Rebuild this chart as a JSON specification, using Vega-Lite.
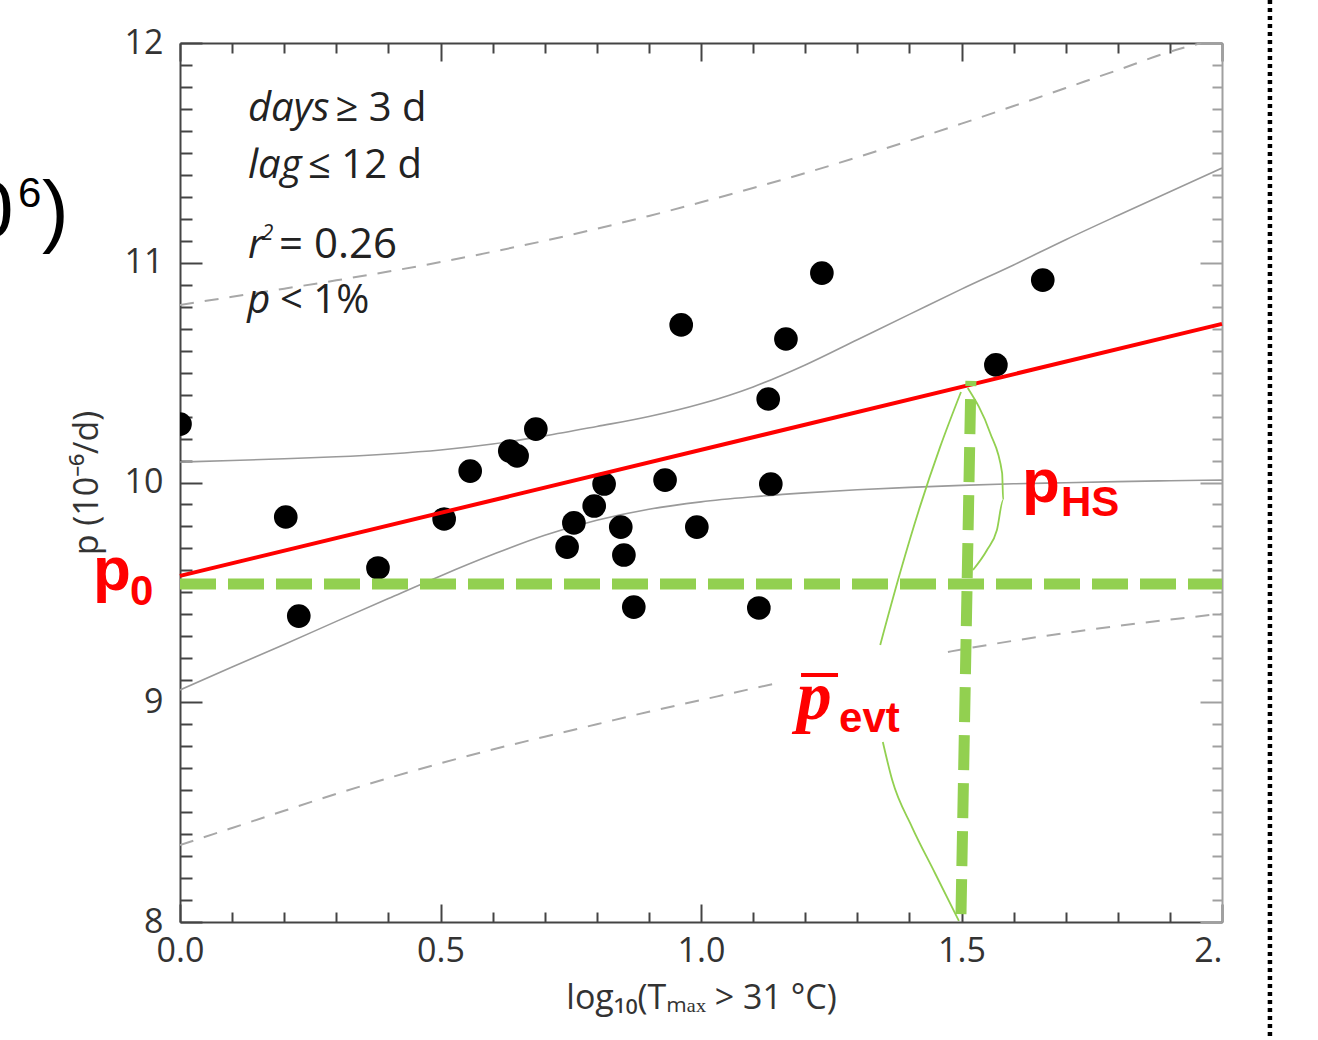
{
  "$schema": "https://vega.github.io/schema/vega-lite/v6.json",
  "width": 1042,
  "height": 879,
  "autosize": "none",
  "padding": {"left": 180, "top": 43, "right": 96, "bottom": 118},
  "background": "white",
  "config": {
    "view": {"stroke": null},
    "axis": {
      "grid": false,
      "domainColor": "#444",
      "domainWidth": 2,
      "tickColor": "#444",
      "tickWidth": 2,
      "labelFont": "Open Sans",
      "labelFontSize": 34,
      "labelColor": "#333",
      "titleFont": "Open Sans",
      "titleFontSize": 34,
      "titleFontWeight": "normal",
      "titleColor": "#333",
      "labelOverlap": false,
      "labelFlush": false,
      "labelBound": false
    }
  },
  "datasets": {
    "band": [
      {"x": 0.0, "y": 10.093, "s": "up"}, {"x": 0.1, "y": 10.100, "s": "up"}, {"x": 0.2, "y": 10.108, "s": "up"},
      {"x": 0.3, "y": 10.117, "s": "up"}, {"x": 0.4, "y": 10.130, "s": "up"}, {"x": 0.5, "y": 10.148, "s": "up"},
      {"x": 0.6, "y": 10.175, "s": "up"}, {"x": 0.7, "y": 10.212, "s": "up"}, {"x": 0.8, "y": 10.255, "s": "up"},
      {"x": 0.9, "y": 10.300, "s": "up"}, {"x": 1.0, "y": 10.358, "s": "up"}, {"x": 1.1, "y": 10.435, "s": "up"},
      {"x": 1.2, "y": 10.535, "s": "up"}, {"x": 1.3, "y": 10.650, "s": "up"}, {"x": 1.4, "y": 10.765, "s": "up"},
      {"x": 1.5, "y": 10.880, "s": "up"}, {"x": 1.6, "y": 10.990, "s": "up"}, {"x": 1.7, "y": 11.105, "s": "up"},
      {"x": 1.8, "y": 11.215, "s": "up"}, {"x": 1.9, "y": 11.323, "s": "up"}, {"x": 2.0, "y": 11.431, "s": "up"},
      {"x": 0.0, "y": 9.056, "s": "lo"}, {"x": 0.1, "y": 9.160, "s": "lo"}, {"x": 0.2, "y": 9.263, "s": "lo"},
      {"x": 0.3, "y": 9.368, "s": "lo"}, {"x": 0.4, "y": 9.472, "s": "lo"}, {"x": 0.5, "y": 9.575, "s": "lo"},
      {"x": 0.6, "y": 9.672, "s": "lo"}, {"x": 0.7, "y": 9.760, "s": "lo"}, {"x": 0.8, "y": 9.828, "s": "lo"},
      {"x": 0.9, "y": 9.878, "s": "lo"}, {"x": 1.0, "y": 9.912, "s": "lo"}, {"x": 1.1, "y": 9.935, "s": "lo"},
      {"x": 1.2, "y": 9.953, "s": "lo"}, {"x": 1.3, "y": 9.967, "s": "lo"}, {"x": 1.4, "y": 9.978, "s": "lo"},
      {"x": 1.5, "y": 9.987, "s": "lo"}, {"x": 1.6, "y": 9.994, "s": "lo"}, {"x": 1.7, "y": 9.999, "s": "lo"},
      {"x": 1.8, "y": 10.004, "s": "lo"}, {"x": 1.9, "y": 10.008, "s": "lo"}, {"x": 2.0, "y": 10.011, "s": "lo"}
    ],
    "pred": [
      {"x": 0.0, "y": 10.808, "s": "up"}, {"x": 0.1, "y": 10.845, "s": "up"}, {"x": 0.2, "y": 10.882, "s": "up"},
      {"x": 0.3, "y": 10.920, "s": "up"}, {"x": 0.4, "y": 10.960, "s": "up"}, {"x": 0.5, "y": 11.003, "s": "up"},
      {"x": 0.6, "y": 11.050, "s": "up"}, {"x": 0.7, "y": 11.100, "s": "up"}, {"x": 0.8, "y": 11.155, "s": "up"},
      {"x": 0.9, "y": 11.213, "s": "up"}, {"x": 1.0, "y": 11.275, "s": "up"}, {"x": 1.1, "y": 11.340, "s": "up"},
      {"x": 1.2, "y": 11.408, "s": "up"}, {"x": 1.3, "y": 11.480, "s": "up"}, {"x": 1.4, "y": 11.555, "s": "up"},
      {"x": 1.5, "y": 11.633, "s": "up"}, {"x": 1.6, "y": 11.713, "s": "up"}, {"x": 1.7, "y": 11.795, "s": "up"},
      {"x": 1.8, "y": 11.877, "s": "up"}, {"x": 1.9, "y": 11.960, "s": "up"}, {"x": 1.96, "y": 12.0, "s": "up"},
      {"x": 0.0, "y": 8.350, "s": "lo1"}, {"x": 0.1, "y": 8.428, "s": "lo1"}, {"x": 0.2, "y": 8.506, "s": "lo1"},
      {"x": 0.3, "y": 8.583, "s": "lo1"}, {"x": 0.4, "y": 8.655, "s": "lo1"}, {"x": 0.5, "y": 8.722, "s": "lo1"},
      {"x": 0.6, "y": 8.785, "s": "lo1"}, {"x": 0.7, "y": 8.843, "s": "lo1"}, {"x": 0.8, "y": 8.900, "s": "lo1"},
      {"x": 0.9, "y": 8.957, "s": "lo1"}, {"x": 1.0, "y": 9.010, "s": "lo1"}, {"x": 1.1, "y": 9.063, "s": "lo1"},
      {"x": 1.148, "y": 9.088, "s": "lo1"},
      {"x": 1.474, "y": 9.229, "s": "lo2"}, {"x": 1.5, "y": 9.240, "s": "lo2"}, {"x": 1.6, "y": 9.280, "s": "lo2"},
      {"x": 1.7, "y": 9.315, "s": "lo2"}, {"x": 1.8, "y": 9.347, "s": "lo2"}, {"x": 1.9, "y": 9.376, "s": "lo2"},
      {"x": 2.0, "y": 9.403, "s": "lo2"}
    ],
    "fit": [{"x": 0.0, "y": 9.575}, {"x": 2.0, "y": 10.722}],
    "pts": [
      {"x": 0.000, "y": 10.266}, {"x": 0.203, "y": 9.843}, {"x": 0.228, "y": 9.392}, {"x": 0.380, "y": 9.611},
      {"x": 0.507, "y": 9.834}, {"x": 0.557, "y": 10.052}, {"x": 0.633, "y": 10.143}, {"x": 0.647, "y": 10.121},
      {"x": 0.683, "y": 10.243}, {"x": 0.743, "y": 9.706}, {"x": 0.756, "y": 9.816}, {"x": 0.795, "y": 9.893},
      {"x": 0.814, "y": 9.993}, {"x": 0.846, "y": 9.797}, {"x": 0.852, "y": 9.670}, {"x": 0.871, "y": 9.433},
      {"x": 0.931, "y": 10.011}, {"x": 0.962, "y": 10.717}, {"x": 0.992, "y": 9.797}, {"x": 1.111, "y": 9.429},
      {"x": 1.129, "y": 10.380}, {"x": 1.134, "y": 9.993}, {"x": 1.163, "y": 10.653}, {"x": 1.232, "y": 10.953},
      {"x": 1.566, "y": 10.535}, {"x": 1.656, "y": 10.921}
    ],
    "p0line": [{"x": 0.0, "y": 9.538}, {"x": 2.0, "y": 9.538}],
    "vline": [{"x": 1.499, "y": 8.036, "o": 1}, {"x": 1.518, "y": 10.462, "o": 2}],
    "curves": [
      {"id": "a", "o": 1, "x": 1.512, "y": 10.430}, {"id": "a", "o": 2, "x": 1.555, "y": 10.225},
      {"id": "a", "o": 3, "x": 1.578, "y": 10.043}, {"id": "a", "o": 4, "x": 1.580, "y": 9.920},
      {"id": "a", "o": 5, "x": 1.568, "y": 9.784}, {"id": "a", "o": 6, "x": 1.549, "y": 9.693},
      {"id": "a", "o": 7, "x": 1.522, "y": 9.602},
      {"id": "b", "o": 1, "x": 1.499, "y": 10.412}, {"id": "b", "o": 2, "x": 1.459, "y": 10.162},
      {"id": "b", "o": 3, "x": 1.420, "y": 9.888}, {"id": "b", "o": 4, "x": 1.382, "y": 9.588},
      {"id": "b", "o": 5, "x": 1.344, "y": 9.261},
      {"id": "c", "o": 1, "x": 1.349, "y": 8.819}, {"id": "c", "o": 2, "x": 1.367, "y": 8.646},
      {"id": "c", "o": 3, "x": 1.405, "y": 8.432}, {"id": "c", "o": 4, "x": 1.449, "y": 8.223},
      {"id": "c", "o": 5, "x": 1.495, "y": 8.005}
    ],
    "bar": [{"x": 1.192, "x2": 1.263, "y": 9.124}],
    "divider": [{"x": 2.092, "y": 12.196, "y2": 7.463}],
    "txt": [
      {"g": "it", "x": 0.1305, "y": 11.645, "t": "days"},
      {"g": "it", "x": 0.1305, "y": 11.386, "t": "lag"},
      {"g": "it", "x": 0.1305, "y": 11.022, "t": "r"},
      {"g": "it", "x": 0.1290, "y": 10.771, "t": "p"},
      {"g": "rm", "x": 0.2985, "y": 11.645, "t": "≥ 3 d"},
      {"g": "rm", "x": 0.2457, "y": 11.386, "t": "≤ 12 d"},
      {"g": "rm2", "x": 0.1900, "y": 11.022, "t": "= 0.26"},
      {"g": "rm", "x": 0.1920, "y": 10.771, "t": "< 1%"},
      {"g": "sup", "x": 0.1570, "y": 11.104, "t": "2"},
      {"g": "redbig", "x": -0.167, "y": 9.511, "t": "p"},
      {"g": "redbig", "x": 1.616, "y": 9.911, "t": "p"},
      {"g": "redsub", "x": -0.096, "y": 9.443, "t": "0"},
      {"g": "redsub", "x": 1.691, "y": 9.848, "t": "HS"},
      {"g": "redsub", "x": 1.265, "y": 8.865, "t": "evt"},
      {"g": "redserif", "x": 1.184, "y": 8.922, "t": "p"},
      {"g": "cropbig", "x": -0.405, "y": 11.117, "t": "0"},
      {"g": "cropbig", "x": -0.265, "y": 11.117, "t": ")"},
      {"g": "cropsup", "x": -0.311, "y": 11.254, "t": "6"}
    ]
  },
  "encoding": {
    "x": {"field": "x", "type": "quantitative", "scale": {"domain": [0, 2], "nice": false, "zero": false}, "axis": null},
    "y": {"field": "y", "type": "quantitative", "scale": {"domain": [8, 12], "nice": false, "zero": false}, "axis": null}
  },
  "layer": [
    {
      "data": {"name": "band"},
      "mark": {"type": "line", "color": "#9a9a9a", "strokeWidth": 1.6, "clip": true, "interpolate": "monotone"},
      "encoding": {
        "x": {
          "field": "x", "type": "quantitative",
          "scale": {"domain": [0, 2], "nice": false, "zero": false},
          "axis": {
            "orient": "bottom",
            "values": [0, 0.1, 0.2, 0.3, 0.4, 0.5, 0.6, 0.7, 0.8, 0.9, 1.0, 1.1, 1.2, 1.3, 1.4, 1.5, 1.6, 1.7, 1.8, 1.9, 2.0],
            "labelExpr": "abs(datum.value*2 - round(datum.value*2)) < 0.01 ? (datum.value > 1.99 ? '2.' : format(datum.value, '.1f')) : ''",
            "labelAlign": {"condition": {"test": "datum.value > 1.99", "value": "right"}, "value": "center"},
            "tickSize": {"condition": {"test": "abs(datum.value*2 - round(datum.value*2)) < 0.01", "value": -18}, "value": -10},
            "labelPadding": 30,
            "title": "log₁₀(Tₘₐₓ > 31 °C)",
            "titlePadding": 5
          }
        },
        "y": {
          "field": "y", "type": "quantitative",
          "scale": {"domain": [8, 12], "nice": false, "zero": false},
          "axis": {
            "orient": "left",
            "values": [8, 8.1, 8.2, 8.3, 8.4, 8.5, 8.6, 8.7, 8.8, 8.9, 9, 9.1, 9.2, 9.3, 9.4, 9.5, 9.6, 9.7, 9.8, 9.9, 10, 10.1, 10.2, 10.3, 10.4, 10.5, 10.6, 10.7, 10.8, 10.9, 11, 11.1, 11.2, 11.3, 11.4, 11.5, 11.6, 11.7, 11.8, 11.9, 12],
            "labelExpr": "abs(datum.value - round(datum.value)) < 0.01 ? format(datum.value, 'd') : ''",
            "tickSize": {"condition": {"test": "abs(datum.value - round(datum.value)) < 0.01", "value": -22}, "value": -12},
            "labelPadding": 39,
            "title": "p (10⁻⁶/d)",
            "titleFontSize": 34,
            "titlePadding": 20
          }
        },
        "detail": {"field": "s"}
      }
    },
    {
      "data": {"name": "pred"},
      "mark": {"type": "line", "color": "#a8a8a8", "strokeWidth": 2, "strokeDash": [14, 11], "clip": true, "interpolate": "monotone"},
      "encoding": {"detail": {"field": "s"}}
    },
    {
      "data": {"name": "pts"},
      "mark": {"type": "circle", "size": 560, "color": "#000000", "opacity": 1, "clip": true}
    },
    {
      "data": {"name": "fit"},
      "mark": {"type": "line", "color": "#ff0000", "strokeWidth": 4},
      "encoding": {
        "x": {
          "field": "x", "type": "quantitative",
          "scale": {"domain": [0, 2], "nice": false, "zero": false},
          "axis": {
            "orient": "top", "labels": false, "title": null,
            "values": [0, 0.1, 0.2, 0.3, 0.4, 0.5, 0.6, 0.7, 0.8, 0.9, 1.0, 1.1, 1.2, 1.3, 1.4, 1.5, 1.6, 1.7, 1.8, 1.9, 2.0],
            "tickSize": {"condition": {"test": "abs(datum.value*2 - round(datum.value*2)) < 0.01", "value": -18}, "value": -10}
          }
        },
        "y": {
          "field": "y", "type": "quantitative",
          "scale": {"domain": [8, 12], "nice": false, "zero": false},
          "axis": {
            "orient": "right", "labels": false, "title": null,
            "domainColor": "#a0a0a0", "tickColor": "#a0a0a0",
            "values": [8, 8.1, 8.2, 8.3, 8.4, 8.5, 8.6, 8.7, 8.8, 8.9, 9, 9.1, 9.2, 9.3, 9.4, 9.5, 9.6, 9.7, 9.8, 9.9, 10, 10.1, 10.2, 10.3, 10.4, 10.5, 10.6, 10.7, 10.8, 10.9, 11, 11.1, 11.2, 11.3, 11.4, 11.5, 11.6, 11.7, 11.8, 11.9, 12],
            "tickSize": {"condition": {"test": "abs(datum.value - round(datum.value)) < 0.01", "value": -22}, "value": -10}
          }
        }
      }
    },
    {
      "data": {"name": "p0line"},
      "mark": {"type": "line", "color": "#92d050", "strokeWidth": 11, "strokeDash": [36, 12], "strokeCap": "butt"}
    },
    {
      "data": {"name": "vline"},
      "mark": {"type": "line", "color": "#92d050", "strokeWidth": 11, "strokeDash": [35, 13], "strokeCap": "butt"},
      "encoding": {"order": {"field": "o", "type": "quantitative"}}
    },
    {
      "data": {"name": "curves"},
      "mark": {"type": "line", "color": "#92d050", "strokeWidth": 1.8, "interpolate": "monotone"},
      "encoding": {"detail": {"field": "id"}, "order": {"field": "o", "type": "quantitative"}}
    },
    {
      "data": {"name": "bar"},
      "mark": {"type": "rule", "color": "#ff0000", "strokeWidth": 4},
      "encoding": {"x2": {"field": "x2"}}
    },
    {
      "data": {"name": "divider"},
      "mark": {"type": "rule", "color": "#000000", "strokeWidth": 4.5, "strokeDash": [4, 4]},
      "encoding": {"y2": {"field": "y2"}}
    },
    {
      "data": {"name": "txt"},
      "transform": [{"filter": "datum.g == 'it'"}],
      "mark": {"type": "text", "align": "left", "baseline": "alphabetic", "font": "Open Sans", "fontStyle": "italic", "fontSize": 40, "color": "#222"},
      "encoding": {"text": {"field": "t"}}
    },
    {
      "data": {"name": "txt"},
      "transform": [{"filter": "datum.g == 'rm'"}],
      "mark": {"type": "text", "align": "left", "baseline": "alphabetic", "font": "Open Sans", "fontSize": 40, "color": "#222"},
      "encoding": {"text": {"field": "t"}}
    },
    {
      "data": {"name": "txt"},
      "transform": [{"filter": "datum.g == 'rm2'"}],
      "mark": {"type": "text", "align": "left", "baseline": "alphabetic", "font": "Open Sans", "fontSize": 42, "color": "#222"},
      "encoding": {"text": {"field": "t"}}
    },
    {
      "data": {"name": "txt"},
      "transform": [{"filter": "datum.g == 'sup'"}],
      "mark": {"type": "text", "align": "left", "baseline": "alphabetic", "font": "Open Sans", "fontStyle": "italic", "fontSize": 21, "color": "#222"},
      "encoding": {"text": {"field": "t"}}
    },
    {
      "data": {"name": "txt"},
      "transform": [{"filter": "datum.g == 'redbig'"}],
      "mark": {"type": "text", "align": "left", "baseline": "alphabetic", "font": "Liberation Sans", "fontWeight": "bold", "fontSize": 62, "color": "#ff0000"},
      "encoding": {"text": {"field": "t"}}
    },
    {
      "data": {"name": "txt"},
      "transform": [{"filter": "datum.g == 'redsub'"}],
      "mark": {"type": "text", "align": "left", "baseline": "alphabetic", "font": "Liberation Sans", "fontWeight": "bold", "fontSize": 42, "color": "#ff0000"},
      "encoding": {"text": {"field": "t"}}
    },
    {
      "data": {"name": "txt"},
      "transform": [{"filter": "datum.g == 'redserif'"}],
      "mark": {"type": "text", "align": "left", "baseline": "alphabetic", "font": "Liberation Serif", "fontWeight": "bold", "fontStyle": "italic", "fontSize": 70, "color": "#ff0000"},
      "encoding": {"text": {"field": "t"}}
    },
    {
      "data": {"name": "txt"},
      "transform": [{"filter": "datum.g == 'cropbig'"}],
      "mark": {"type": "text", "align": "left", "baseline": "alphabetic", "font": "Liberation Sans", "fontSize": 80, "color": "#000"},
      "encoding": {"text": {"field": "t"}}
    },
    {
      "data": {"name": "txt"},
      "transform": [{"filter": "datum.g == 'cropsup'"}],
      "mark": {"type": "text", "align": "left", "baseline": "alphabetic", "font": "Liberation Sans", "fontSize": 42, "color": "#000"},
      "encoding": {"text": {"field": "t"}}
    }
  ],
  "resolve": {"axis": {"x": "independent", "y": "independent"}}
}
